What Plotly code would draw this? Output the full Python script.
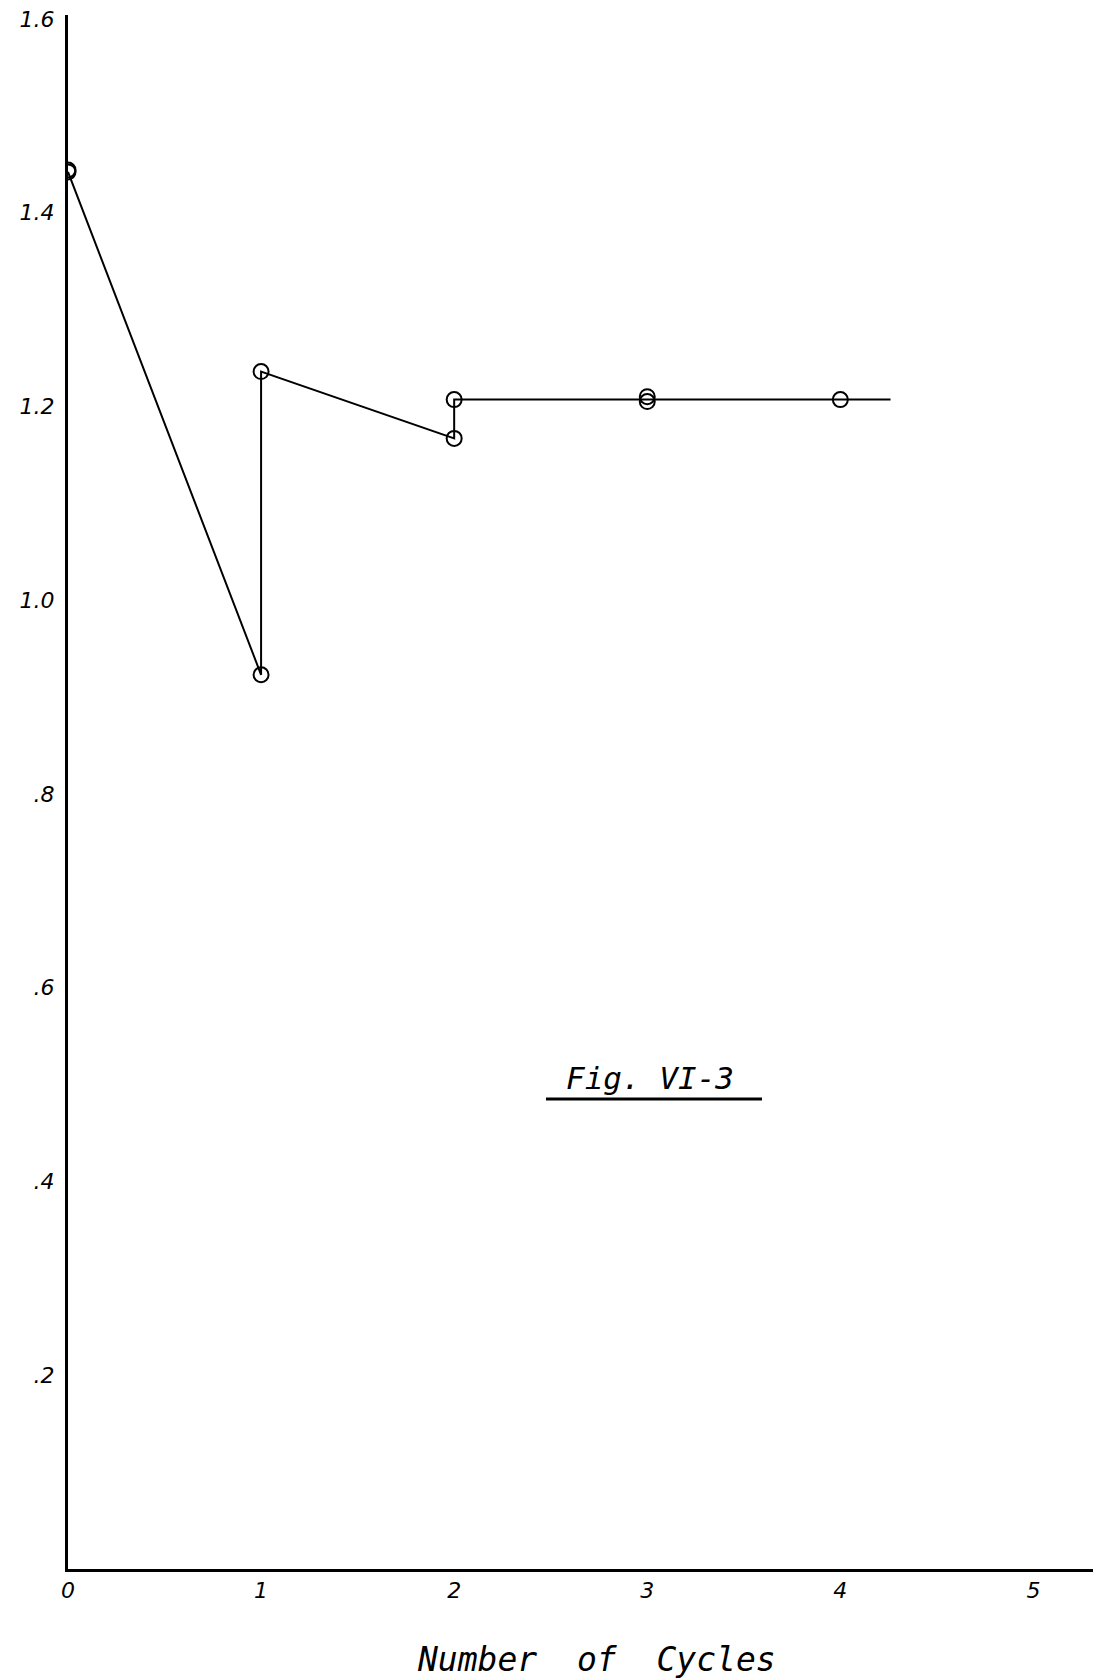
import plotly.graph_objects as go

# Data
cycles = [0, 1, 1, 2, 2, 3, 4, 4.26]
values = [1.442, 0.923, 1.236, 1.167, 1.207, 1.207, 1.207, 1.207]
marker_cycles = [0, 0, 1, 1, 2, 2, 3, 3, 4]
marker_values = [1.442, 1.444, 0.923, 1.236, 1.167, 1.207, 1.205, 1.210, 1.207]

x_ticks = [0, 1, 2, 3, 4, 5]
x_tick_text = ["0", "1", "2", "3", "4", "5"]
y_ticks = [0.2, 0.4, 0.6, 0.8, 1.0, 1.2, 1.4, 1.6]
y_tick_text = [".2", ".4", ".6", ".8", "1.0", "1.2", "1.4", "1.6"]

font_family = "DejaVu Sans"
mono_family = "DejaVu Sans Mono"

fig = go.Figure()
fig.add_trace(go.Scatter(
    x=cycles, y=values, mode="lines",
    line=dict(color="black", width=2),
    showlegend=False, hoverinfo="skip",
))
fig.add_trace(go.Scatter(
    x=marker_cycles, y=marker_values, mode="markers",
    marker=dict(symbol="circle-open", size=15, color="black", line=dict(width=2)),
    showlegend=False,
))

# The page body adds an 8px offset, so the figure is sized to fit inside it.
fig.update_layout(
    width=1093, height=1672,
    margin=dict(l=60, r=0, t=7, b=111),
    paper_bgcolor="white", plot_bgcolor="white",
    font=dict(family=font_family, color="black"),
    xaxis=dict(
        range=[0, 5.35], showgrid=False, zeroline=False, automargin=False,
        showline=True, linecolor="black", linewidth=3,
        tickvals=x_ticks, ticktext=x_tick_text, ticks="",
        tickfont=dict(size=22, family=font_family, style="italic"),
        ticklabeloverflow="allow",
    ),
    yaxis=dict(
        range=[0, 1.604], showgrid=False, zeroline=False, automargin=False,
        showline=True, linecolor="black", linewidth=3,
        tickvals=y_ticks, ticktext=y_tick_text, ticks="",
        tickfont=dict(size=22, family=font_family, style="italic"),
        ticklabelstandoff=6, ticklabeloverflow="allow",
    ),
    annotations=[
        dict(
            text="<i>Fig. VI-3</i>", x=0.5634, y=0.316, xref="paper", yref="paper",
            showarrow=False, font=dict(size=31, family=mono_family),
            xanchor="center", yanchor="middle",
        ),
        dict(
            text="<i>Number\u00a0 of\u00a0 Cycles</i>", x=0.512, y=-0.058,
            xref="paper", yref="paper",
            showarrow=False, font=dict(size=33, family=mono_family),
            xanchor="center", yanchor="middle",
        ),
    ],
    shapes=[dict(
        type="line", xref="paper", yref="paper",
        x0=0.4627, x1=0.6718, y0=0.3024, y1=0.3024,
        line=dict(color="black", width=3),
    )],
)

fig.write_html("out.html")
